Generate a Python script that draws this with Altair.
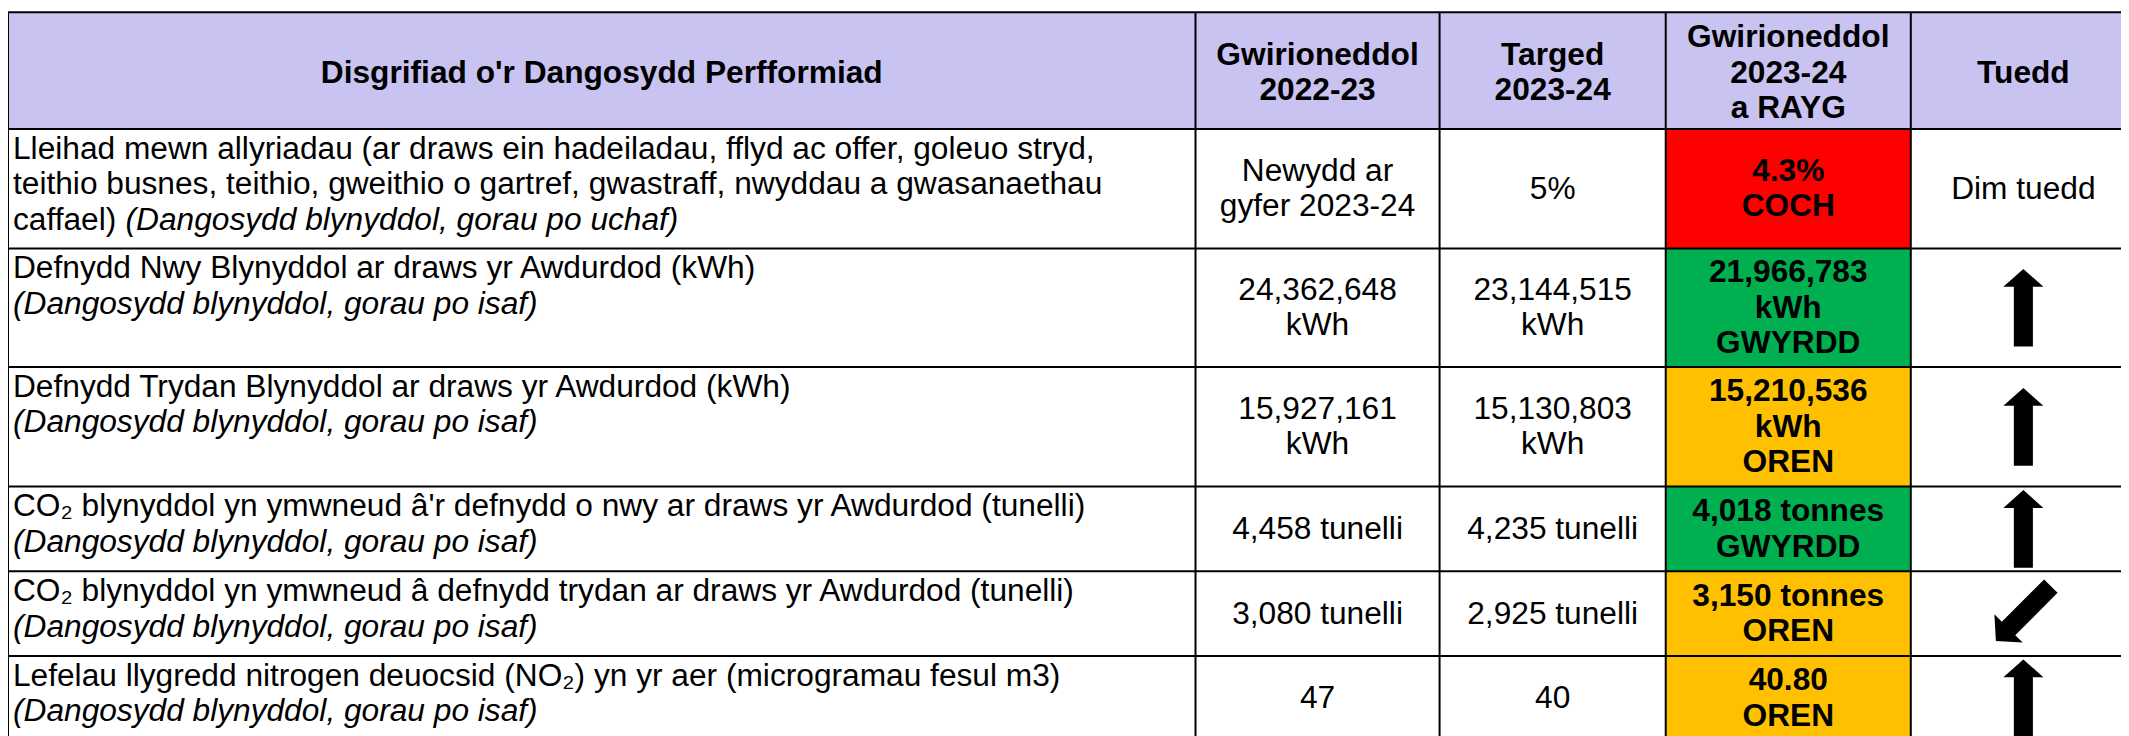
import altair as alt
import pandas as pd

# ---------------- data ----------------
HEADERS = [
    "Disgrifiad o'r Dangosydd Perfformiad",
    "Gwirioneddol\n2022-23",
    "Targed\n2023-24",
    "Gwirioneddol\n2023-24\na RAYG",
    "Tuedd",
]

DESCRIPTIONS = [
    "Lleihad mewn allyriadau (ar draws ein hadeiladau, fflyd ac offer, goleuo stryd,\n"
    "teithio busnes, teithio, gweithio o gartref, gwastraff, nwyddau a gwasanaethau\n"
    "caffael)",
    "Defnydd Nwy Blynyddol ar draws yr Awdurdod (kWh)",
    "Defnydd Trydan Blynyddol ar draws yr Awdurdod (kWh)",
    "CO₂ blynyddol yn ymwneud â'r defnydd o nwy ar draws yr Awdurdod (tunelli)",
    "CO₂ blynyddol yn ymwneud â defnydd trydan ar draws yr Awdurdod (tunelli)",
    "Lefelau llygredd nitrogen deuocsid (NO₂) yn yr aer (microgramau fesul m3)",
]
NOTES = [
    "(Dangosydd blynyddol, gorau po uchaf)",
    "(Dangosydd blynyddol, gorau po isaf)",
    "(Dangosydd blynyddol, gorau po isaf)",
    "(Dangosydd blynyddol, gorau po isaf)",
    "(Dangosydd blynyddol, gorau po isaf)",
    "(Dangosydd blynyddol, gorau po isaf)",
]
ACTUAL_2022_23 = [
    "Newydd ar\ngyfer 2023-24",
    "24,362,648\nkWh",
    "15,927,161\nkWh",
    "4,458 tunelli",
    "3,080 tunelli",
    "47",
]
TARGET_2023_24 = [
    "5%",
    "23,144,515\nkWh",
    "15,130,803\nkWh",
    "4,235 tunelli",
    "2,925 tunelli",
    "40",
]
ACTUAL_2023_24 = [
    "4.3%",
    "21,966,783\nkWh",
    "15,210,536\nkWh",
    "4,018 tonnes",
    "3,150 tonnes",
    "40.80",
]
RAYG = ["COCH", "GWYRDD", "OREN", "GWYRDD", "OREN", "OREN"]
TREND = ["Dim tuedd", "up", "up", "up", "down-left", "up"]

# ---------------- layout / style ----------------
COL_EDGES = [8, 1200, 1445, 1672, 1918, 2144]
ROW_EDGES = [11, 128, 248, 367, 487, 572, 657, 742]
FONT = "Liberation Sans"
FS = 31.8
LH = 35.6
PAD_LEFT = 5
PAD_TOP = 3
NOTE_INLINE = [True, False, False, False, False, False]
INLINE_DX = 113
HEADER_FILL = "#C8C3F0"
RAYG_FILL = {"COCH": "#FF0000", "GWYRDD": "#00B050", "OREN": "#FFC000"}
TREND_ANGLE = {"up": 0, "down-left": 225}
ARROW = "M0,-1 L0.515,-0.54 L0.245,-0.54 L0.245,1 L-0.245,1 L-0.245,-0.54 L-0.515,-0.54 Z"

W, H = 2121, 728
XS = alt.Scale(domain=[8, 8 + W], nice=False, zero=False)
YS = alt.Scale(domain=[8, 8 + H], nice=False, zero=False, reverse=True)


def X(f):
    return alt.X(f, type="quantitative", scale=XS, axis=None)


def Y(f):
    return alt.Y(f, type="quantitative", scale=YS, axis=None)


def cx(c):
    return (COL_EDGES[c] + COL_EDGES[c + 1]) / 2


def cy(r):
    return (ROW_EDGES[r] + ROW_EDGES[r + 1]) / 2


def block_y(r, text, shift=0.0):
    # first-line position so that a multi-line block is centred in row r
    k = len(text.split("\n"))
    return cy(r) - (k - 1) / 2 * LH + shift


n = len(DESCRIPTIONS)

# cell fills
cells = []
for c in range(5):
    cells.append(dict(x=COL_EDGES[c], x2=COL_EDGES[c + 1], y=ROW_EDGES[0], y2=ROW_EDGES[1], fill=HEADER_FILL))
for i, st in enumerate(RAYG):
    cells.append(dict(x=COL_EDGES[3], x2=COL_EDGES[4], y=ROW_EDGES[i + 1], y2=ROW_EDGES[i + 2], fill=RAYG_FILL[st]))
cells_df = pd.DataFrame(cells)

rects = alt.Chart(cells_df).mark_rect(strokeWidth=0).encode(
    x=X("x"), x2="x2", y=Y("y"), y2="y2", fill=alt.Fill("fill:N", scale=None)
)

# grid lines
lines = []
for yv in ROW_EDGES:
    lines.append(dict(x=COL_EDGES[0], x2=COL_EDGES[-1], y=yv, y2=yv))
for xv in COL_EDGES:
    lines.append(dict(x=xv, x2=xv, y=ROW_EDGES[0], y2=ROW_EDGES[-1]))
lines_df = pd.DataFrame(lines)
rules = alt.Chart(lines_df).mark_rule(color="black", strokeWidth=2).encode(
    x=X("x"), x2="x2", y=Y("y"), y2="y2"
)

# header text
hdr_df = pd.DataFrame([dict(x=cx(c), y=block_y(0, h, 2), t=h) for c, h in enumerate(HEADERS)])
hdr = alt.Chart(hdr_df).mark_text(
    font=FONT, fontSize=FS, fontWeight="bold", color="black", align="center",
    baseline="middle", lineBreak="\n", lineHeight=LH
).encode(x=X("x"), y=Y("y"), text="t:N")

# descriptions
desc_df = pd.DataFrame([
    dict(x=COL_EDGES[0] + PAD_LEFT, y=ROW_EDGES[i + 1] + PAD_TOP, t=d) for i, d in enumerate(DESCRIPTIONS)
])
desc = alt.Chart(desc_df).mark_text(
    font=FONT, fontSize=FS, color="black", align="left",
    baseline="line-top", lineBreak="\n", lineHeight=LH
).encode(x=X("x"), y=Y("y"), text="t:N")

notes = []
for i, nt in enumerate(NOTES):
    nl = len(DESCRIPTIONS[i].split("\n"))
    if NOTE_INLINE[i]:
        notes.append(dict(x=COL_EDGES[0] + PAD_LEFT + INLINE_DX, y=ROW_EDGES[i + 1] + PAD_TOP + (nl - 1) * LH, t=nt))
    else:
        notes.append(dict(x=COL_EDGES[0] + PAD_LEFT, y=ROW_EDGES[i + 1] + PAD_TOP + nl * LH, t=nt))
notes_df = pd.DataFrame(notes)
note = alt.Chart(notes_df).mark_text(
    font=FONT, fontSize=FS, fontStyle="italic", color="black", align="left",
    baseline="line-top", lineBreak="\n", lineHeight=LH
).encode(x=X("x"), y=Y("y"), text="t:N")

# plain values (centered)
vals = []
for i in range(n):
    vals.append(dict(x=cx(1), y=block_y(i + 1, ACTUAL_2022_23[i]), t=ACTUAL_2022_23[i]))
    vals.append(dict(x=cx(2), y=block_y(i + 1, TARGET_2023_24[i]), t=TARGET_2023_24[i]))
    if TREND[i] not in TREND_ANGLE:
        vals.append(dict(x=cx(4), y=block_y(i + 1, TREND[i]), t=TREND[i]))
vals_df = pd.DataFrame(vals)
val = alt.Chart(vals_df).mark_text(
    font=FONT, fontSize=FS, color="black", align="center",
    baseline="middle", lineBreak="\n", lineHeight=LH
).encode(x=X("x"), y=Y("y"), text="t:N")

# RAYG values (bold)
rayg_rows = []
for i in range(n):
    t = ACTUAL_2023_24[i] + "\n" + RAYG[i]
    rayg_rows.append(dict(x=cx(3), y=block_y(i + 1, t), t=t))
rayg_df = pd.DataFrame(rayg_rows)
rayg = alt.Chart(rayg_df).mark_text(
    font=FONT, fontSize=FS, fontWeight="bold", color="black", align="center",
    baseline="middle", lineBreak="\n", lineHeight=LH
).encode(x=X("x"), y=Y("y"), text="t:N")

# trend arrows
arr_df = pd.DataFrame([
    dict(x=cx(4), y=cy(i + 1), trend=TREND[i]) for i in range(n) if TREND[i] in TREND_ANGLE
])
arrows = alt.Chart(arr_df).mark_point(
    shape=ARROW, filled=True, fill="black", strokeWidth=0, opacity=1, size=6084
).encode(
    x=X("x"), y=Y("y"),
    angle=alt.Angle("trend:N", scale=alt.Scale(domain=list(TREND_ANGLE.keys()), range=list(TREND_ANGLE.values())), legend=None),
)

chart = alt.layer(rects, rules, hdr, desc, note, val, rayg, arrows).properties(
    width=W, height=H, padding=0, autosize="none", background="white"
).configure_view(strokeWidth=0)

chart.save("out.html", embed_options={"renderer": "svg", "actions": False})
